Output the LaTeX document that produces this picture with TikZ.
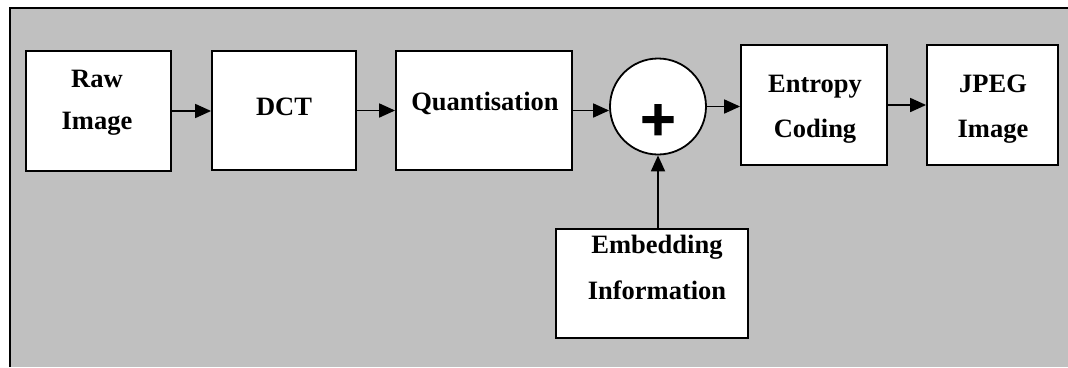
\documentclass[tikz,border=0pt]{standalone}
\usepackage{fontspec}
\setmainfont{Liberation Serif}
\newfontfamily\plusfont[FakeBold=5]{Liberation Sans}
\usetikzlibrary{arrows.meta}
\definecolor{panel}{RGB}{192,192,192}

\begin{document}
\begin{tikzpicture}[x=1pt,y=-1pt,
  stage/.style={draw, fill=white, line width=1.8pt, inner sep=0pt},
  lbl/.style={anchor=base, inner sep=0pt, font=\bfseries\fontsize{26.5}{30}\selectfont},
  arr/.style={line width=1.8pt, -{Triangle[length=16pt,width=14pt]}}]
\useasboundingbox (0,0) rectangle (1068,367);

% grey panel with its left and top edges
\fill[panel] (10,8) rectangle (1068,367);
\draw[line width=2pt] (10,367) -- (10,8) -- (1068,8);

% processing stages
\node[stage, minimum width=145pt, minimum height=120pt] (raw)   at (98.5,111) {};
\node[stage, minimum width=144pt, minimum height=119pt] (dct)   at (284,110.5) {};
\node[stage, minimum width=176pt, minimum height=119pt] (quant) at (484,110.5) {};
\node[stage, circle, minimum size=96pt]                 (sum)   at (658,106.5) {};
\node[stage, minimum width=146pt, minimum height=120pt] (ent)   at (814,105) {};
\node[stage, minimum width=131pt, minimum height=120pt] (jpeg)  at (992.5,105) {};
\node[stage, minimum width=192pt, minimum height=109pt] (emb)   at (652,283.5) {};

% labels
\node[lbl] (rawA)  at (97,87)   {Raw};
\node[lbl] (rawB)  at (97,129)  {Image};
\node[lbl] (dctA)  at (284,115) {DCT};
\node[lbl] (quantA) at (485,110) {Quantisation};
\node[lbl] (entA)  at (815,92)  {Entropy};
\node[lbl] (entB)  at (815,137) {Coding};
\node[lbl] (jpegA) at (993,92)  {JPEG};
\node[lbl] (jpegB) at (993,137) {Image};
\node[lbl] (embA)  at (657,253) {Embedding};
\node[lbl] (embB)  at (657,299) {Information};
\node[anchor=base, inner sep=0pt, font=\plusfont\fontsize{58}{60}\selectfont] (plus) at (658,139) {+};

% connectors
\draw[arr] (raw.east) -- (raw.east -| dct.west);
\draw[arr] (dct.east) -- (dct.east -| quant.west);
\draw[arr] (quant.east) -- (quant.east -| sum.west);
\draw[arr] (sum.east) -- (sum.east -| ent.west);
\draw[arr] (ent.east) -- (jpeg.west);
\draw[arr] (sum.south |- emb.north) -- (sum.south);
\end{tikzpicture}
\end{document}
